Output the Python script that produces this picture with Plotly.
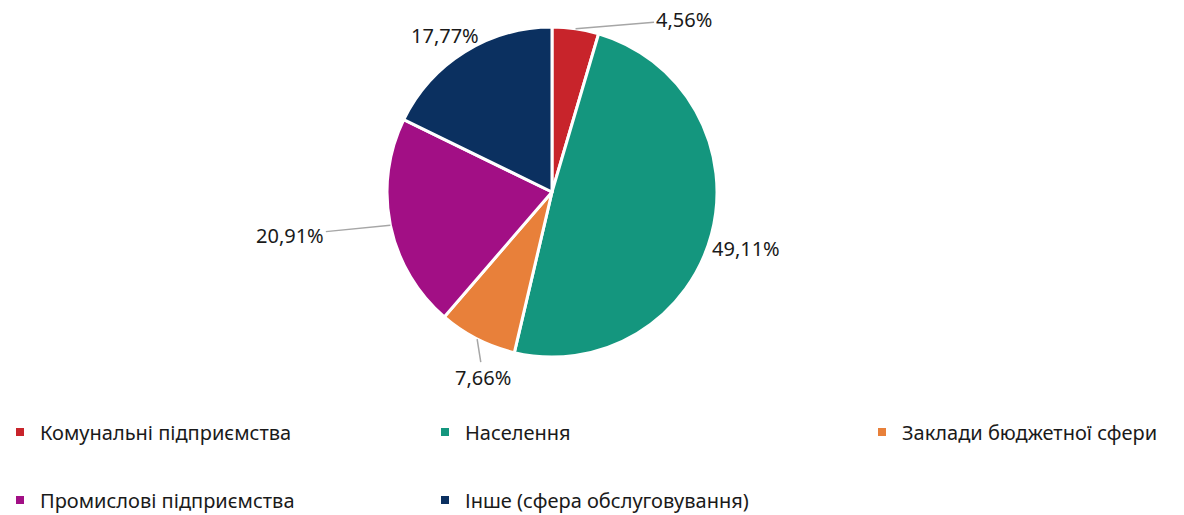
import math
import plotly.graph_objects as go

categories = ["Комунальні підприємства", "Населення", "Заклади бюджетної сфери",
              "Промислові підприємства", "Інше (сфера обслуговування)"]
values = [4.56, 49.11, 7.66, 20.91, 17.77]
colors = ["#C8242B", "#14967E", "#E8803A", "#A20F85", "#0B3060"]

W, H = 1184, 515
CX, CY, R = 552, 192, 165
# label offsets (pixels) from slice edge, and whether a leader line is drawn
label_offsets = [(108, -9), (34, 14), (6, 38), (-100, 10), (-20, -32)]
leader = [True, False, True, True, False]

dom_x = [(CX - R) / W, (CX + R) / W]
dom_y = [1 - (CY + R) / H, 1 - (CY - R) / H]

fig = go.Figure()
fig.add_trace(go.Pie(
    labels=categories, values=values, sort=False, direction="clockwise", rotation=0,
    marker=dict(colors=colors, line=dict(color="white", width=3)),
    textinfo="none", hoverinfo="label+percent", showlegend=False,
    domain=dict(x=dom_x, y=dom_y),
))

font_main = "Noto Sans"
total = sum(values)
cum = 0
for i, v in enumerate(values):
    mid = (cum + v / 2) / total * 2 * math.pi
    cum += v
    px = CX + R * math.sin(mid)
    py = CY - R * math.cos(mid)
    ax, ay = label_offsets[i]
    txt = f"{v:.2f}".replace(".", ",") + "%"
    if leader[i]:
        fig.add_annotation(x=px / W, y=1 - py / H, xref="paper", yref="paper",
                           text=txt, showarrow=True, arrowhead=0, arrowwidth=1.5,
                           arrowcolor="#A6A6A6", ax=ax, ay=ay, standoff=0,
                           font=dict(family=font_main, size=20, color="#1a1a1a"))
    else:
        fig.add_annotation(x=(px + ax) / W, y=1 - (py + ay) / H, xref="paper", yref="paper",
                           text=txt, showarrow=False,
                           font=dict(family=font_main, size=20, color="#1a1a1a"))

legend_of = ["legend", "legend", "legend2", "legend3", "legend3"]
for c, col, lg in zip(categories, colors, legend_of):
    fig.add_trace(go.Scatter(
        x=[None], y=[None], mode="markers", name=c,
        marker=dict(symbol="square", size=8, color=col),
        legend=lg, hoverinfo="skip",
    ))

legend_common = dict(orientation="h", xanchor="left", yanchor="middle",
                     font=dict(family=font_main, size=20, color="#1a1a1a"),
                     entrywidth=380, entrywidthmode="pixels", itemwidth=30,
                     bgcolor="rgba(0,0,0,0)")
fig.update_layout(
    width=W, height=H, margin=dict(l=0, r=0, t=0, b=0, autoexpand=False),
    paper_bgcolor="white", plot_bgcolor="white",
    xaxis=dict(visible=False), yaxis=dict(visible=False),
    legend=dict(x=0, y=1 - 432 / H, **legend_common),
    legend2=dict(x=862 / W, y=1 - 432 / H, **legend_common),
    legend3=dict(x=0, y=1 - 500 / H, **legend_common),
)
fig.write_html("out.html", config={"displayModeBar": False},
               post_script="document.body.style.margin='0';")
